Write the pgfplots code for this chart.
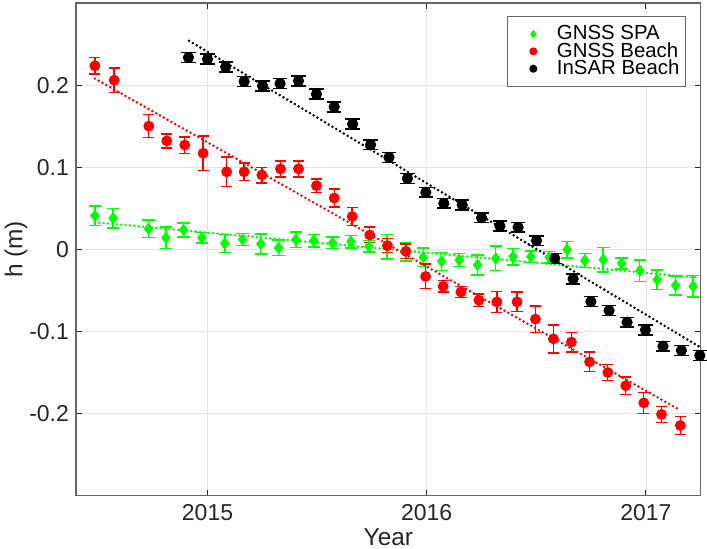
\documentclass[border=0pt]{standalone}
\usepackage{fontspec}
\setmainfont{Liberation Sans}
\usepackage{pgfplots}
\pgfplotsset{compat=1.18}
\definecolor{mgreen}{rgb}{0,1,0}
\definecolor{mred}{rgb}{1,0,0}
\definecolor{axgray}{rgb}{0.15,0.15,0.15}
\begin{document}
\begin{tikzpicture}[font=\fontsize{11.5}{13.8}\selectfont]
\begin{axis}[
  scale only axis, width=312.35pt, height=246.35pt,
  at={(0,0)}, anchor=south west,
  xmin=2014.4, xmax=2017.25, ymin=-0.3, ymax=0.3,
  xtick={2015,2016,2017}, ytick={-0.2,-0.1,0,0.1,0.2},
  /pgf/number format/1000 sep={},
  /pgf/number format/assume math mode=true,
  scaled y ticks=false,
  tick align=inside, major tick length=3pt,
  xtick pos=both, ytick pos=both,
  grid=major, grid style={color=black!10, line width=0.4pt},
  axis line style={color=black!60, line width=0.6pt},
  tick style={color=axgray, line width=0.5pt},
  ticklabel style={color=axgray},
  xticklabel style={yshift=-1pt},
  xlabel={Year}, ylabel={h (m)},
  label style={font=\fontsize{12.2}{14.6}\selectfont},
  xlabel style={at={(axis description cs:0.5,-0.0838)}, anchor=center, color=axgray},
  ylabel style={at={(axis description cs:-0.096,0.5)}, anchor=center, color=axgray},
  clip=false,
  legend style={at={(axis description cs:0.9765,0.9736)}, anchor=north east,
    draw=black!60, line width=0.6pt, fill=white, inner xsep=1pt, inner ysep=4pt,
    row sep=-1.2pt, nodes={inner ysep=0.5pt, inner xsep=2pt},
    font=\fontsize{10.2}{12.2}\selectfont, text=black},
  legend image code/.code={\path[draw=none,fill=none] (-12pt,0pt) -- (9.8pt,0pt); \draw[mark size=1.7pt] plot coordinates {(0pt,0pt)};},
  legend cell align=left,
]
% GNSS SPA
\addplot[only marks, mark=diamond*, mark size=2.8pt, color=mgreen,
  error bars/.cd, y dir=both, y explicit,
  error bar style={line width=0.7pt, color=mgreen},
  error mark options={rotate=90, mark size=3.1pt, line width=0.7pt, color=mgreen}]
coordinates {
(2014.486,0.041) +- (0,0.012)
(2014.569,0.038) +- (0,0.012)
(2014.731,0.025) +- (0,0.0105)
(2014.810,0.014) +- (0,0.013)
(2014.891,0.0236) +- (0,0.0085)
(2014.974,0.0142) +- (0,0.0065)
(2015.079,0.0073) +- (0,0.011)
(2015.160,0.0118) +- (0,0.0073)
(2015.243,0.0065) +- (0,0.012)
(2015.324,0.0017) +- (0,0.0095)
(2015.403,0.0118) +- (0,0.0093)
(2015.485,0.0106) +- (0,0.0077)
(2015.570,0.0078) +- (0,0.007)
(2015.654,0.0094) +- (0,0.0077)
(2015.736,0.0037) +- (0,0.007)
(2015.819,0.0033) +- (0,0.015)
(2015.905,-0.0028) +- (0,0.0115)
(2015.984,-0.0097) +- (0,0.0115)
(2016.068,-0.0146) +- (0,0.011)
(2016.148,-0.013) +- (0,0.008)
(2016.232,-0.019) +- (0,0.012)
(2016.315,-0.011) +- (0,0.015)
(2016.394,-0.0089) +- (0,0.010)
(2016.475,-0.0089) +- (0,0.007)
(2016.558,-0.0097) +- (0,0.007)
(2016.640,-0.0004) +- (0,0.010)
(2016.721,-0.0137) +- (0,0.0085)
(2016.805,-0.0125) +- (0,0.015)
(2016.889,-0.017) +- (0,0.0067)
(2016.972,-0.026) +- (0,0.013)
(2017.051,-0.037) +- (0,0.012)
(2017.135,-0.044) +- (0,0.0115)
(2017.215,-0.045) +- (0,0.013)
};
\addlegendentry{GNSS SPA}
% GNSS Beach
\addplot[only marks, mark=*, mark size=2.5pt, color=mred,
  error bars/.cd, y dir=both, y explicit,
  error bar style={line width=0.7pt, color=mred},
  error mark options={rotate=90, mark size=2.8pt, line width=0.7pt, color=mred}]
coordinates {
(2014.486,0.2235) +- (0,0.010)
(2014.574,0.206) +- (0,0.015)
(2014.732,0.150) +- (0,0.014)
(2014.814,0.132) +- (0,0.0087)
(2014.896,0.127) +- (0,0.010)
(2014.980,0.117) +- (0,0.021)
(2015.087,0.0945) +- (0,0.018)
(2015.167,0.0945) +- (0,0.0105)
(2015.248,0.0905) +- (0,0.0095)
(2015.333,0.098) +- (0,0.0097)
(2015.415,0.098) +- (0,0.0097)
(2015.497,0.0775) +- (0,0.008)
(2015.578,0.0625) +- (0,0.011)
(2015.660,0.040) +- (0,0.011)
(2015.740,0.0175) +- (0,0.0095)
(2015.821,0.0045) +- (0,0.0087)
(2015.905,-0.0024) +- (0,0.009)
(2015.995,-0.033) +- (0,0.015)
(2016.075,-0.045) +- (0,0.007)
(2016.156,-0.052) +- (0,0.007)
(2016.238,-0.062) +- (0,0.0077)
(2016.320,-0.064) +- (0,0.013)
(2016.412,-0.064) +- (0,0.012)
(2016.496,-0.085) +- (0,0.016)
(2016.578,-0.109) +- (0,0.017)
(2016.660,-0.113) +- (0,0.012)
(2016.743,-0.137) +- (0,0.012)
(2016.826,-0.150) +- (0,0.010)
(2016.908,-0.166) +- (0,0.0105)
(2016.990,-0.187) +- (0,0.013)
(2017.071,-0.201) +- (0,0.0095)
(2017.157,-0.2145) +- (0,0.011)
};
\addlegendentry{GNSS Beach}
% InSAR Beach
\addplot[only marks, mark=*, mark size=2.6pt, color=black,
  error bars/.cd, y dir=both, y explicit,
  error bar style={line width=0.8pt, color=black},
  error mark options={rotate=90, mark size=3.6pt, line width=0.8pt, color=black}]
coordinates {
(2014.913,0.2336) +- (0,0.006)
(2015.000,0.2316) +- (0,0.006)
(2015.083,0.2222) +- (0,0.006)
(2015.167,0.2044) +- (0,0.006)
(2015.251,0.1991) +- (0,0.006)
(2015.331,0.2019) +- (0,0.006)
(2015.415,0.2052) +- (0,0.006)
(2015.497,0.189) +- (0,0.006)
(2015.578,0.1736) +- (0,0.006)
(2015.662,0.1525) +- (0,0.006)
(2015.744,0.1274) +- (0,0.006)
(2015.828,0.112) +- (0,0.006)
(2015.912,0.0864) +- (0,0.006)
(2015.996,0.0694) +- (0,0.006)
(2016.078,0.056) +- (0,0.006)
(2016.162,0.054) +- (0,0.006)
(2016.250,0.0386) +- (0,0.006)
(2016.334,0.0284) +- (0,0.006)
(2016.417,0.0268) +- (0,0.006)
(2016.501,0.0106) +- (0,0.006)
(2016.584,-0.011) +- (0,0.006)
(2016.668,-0.036) +- (0,0.006)
(2016.749,-0.0636) +- (0,0.006)
(2016.832,-0.0746) +- (0,0.006)
(2016.914,-0.0888) +- (0,0.006)
(2016.998,-0.098) +- (0,0.006)
(2017.078,-0.118) +- (0,0.006)
(2017.162,-0.1232) +- (0,0.006)
(2017.246,-0.1293) +- (0,0.006)
};
\addlegendentry{InSAR Beach}
% trend lines
\addplot[forget plot, color=mgreen, line width=1.4pt, line cap=round, dash pattern=on 0pt off 2.2pt] coordinates {(2014.486,0.033) (2017.238,-0.0345)};
\addplot[forget plot, color=mred, line width=1.4pt, line cap=round, dash pattern=on 0pt off 2.2pt] coordinates {(2014.486,0.208) (2017.157,-0.196)};
\addplot[forget plot, color=black, line width=1.4pt, line cap=round, dash pattern=on 0pt off 2.2pt] coordinates {(2014.916,0.254) (2017.247,-0.119)};
\end{axis}
\pgfresetboundingbox
\path[use as bounding box] (-38pt,-26.65pt) rectangle (315.5pt,247.85pt);
\end{tikzpicture}
\end{document}
